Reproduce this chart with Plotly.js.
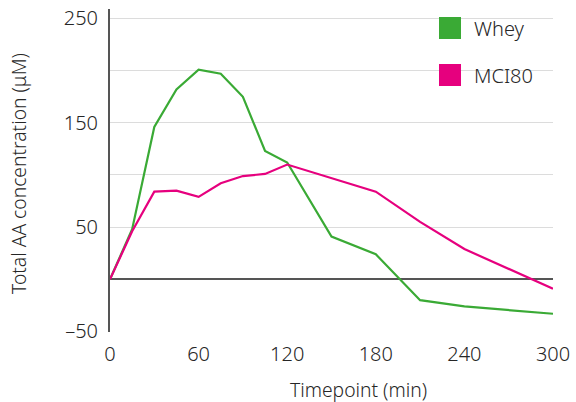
<!DOCTYPE html>
<html><head><meta charset="utf-8">
<script src="https://cdn.plot.ly/plotly-3.0.1.min.js"></script>
<style>html,body{margin:0;padding:0;background:#fff}</style>
</head><body>
<div id="chart" style="width:576px;height:402px"></div>
<script>
const timepoints = [0, 15, 30, 45, 60, 75, 90, 105, 120, 150, 180, 210, 240, 300];
const wheyValues = [0, 48, 146, 182, 201, 197, 175, 123, 112, 41, 24, -20, -26, -33];
const mci80Values = [0, 46, 84, 85, 79, 92, 99, 101, 110, 97, 84, 55, 29, -9];
const seriesNames = ['Whey', 'MCI80'];
const seriesColors = ['#3aaa35', '#e6007e'];
const yTickVals = [-50, 50, 150, 250];
const yTickText = ['–50', '50', '150', '250'];
const yGridVals = [50, 100, 150, 200, 250];
const xTickVals = [0, 60, 120, 180, 240, 300];
const xTitle = 'Timepoint (min)';
const yTitle = 'Total AA concentration (μM)';

const font = 'Noto Sans, Open Sans, sans-serif';
const txt = '#262626';
const traces = [wheyValues, mci80Values].map((v, i) => ({
  x: timepoints, y: v, type: 'scatter', mode: 'lines', name: seriesNames[i],
  line: {color: seriesColors[i], width: 2.2}, showlegend: false
}));

const L = 110, T = 9, W = 443, H = 323;
const px = x => (x - L) / W, py = y => 1 - (y - T) / H;
const shapes = [], annotations = [];
seriesNames.forEach((n, i) => {
  const top = 17 + i * 47;
  shapes.push({type: 'rect', xref: 'paper', yref: 'paper',
    x0: px(439), x1: px(461), y0: py(top), y1: py(top + 22),
    fillcolor: seriesColors[i], line: {width: 0}});
  annotations.push({xref: 'paper', yref: 'paper', x: px(472), y: py(top + 11),
    xanchor: 'left', yanchor: 'middle', text: n, showarrow: false,
    font: {family: font, size: 20, weight: 300, color: txt}});
});
annotations.push({xref: 'paper', yref: 'paper', x: px(358.5), y: py(389),
  xanchor: 'center', yanchor: 'middle', text: xTitle, showarrow: false,
  font: {family: font, size: 19.3, weight: 300, color: txt}});
annotations.push({xref: 'paper', yref: 'paper', x: px(18), y: py(174),
  xanchor: 'center', yanchor: 'middle', text: yTitle, textangle: -90, showarrow: false,
  font: {family: font, size: 19.3, weight: 300, color: txt}});

const layout = {
  width: 576, height: 402,
  margin: {l: L, r: 576 - L - W, t: T, b: 402 - T - H},
  paper_bgcolor: '#fff', plot_bgcolor: '#fff',
  font: {family: font, color: txt},
  xaxis: {
    range: [0, 300], tickvals: xTickVals, showgrid: false, zeroline: false,
    showline: false, ticks: '', ticklabelstandoff: 8,
    tickfont: {size: 20, weight: 300, color: txt}
  },
  yaxis: {
    range: [-50.5, 259.1], tickvals: yTickVals, ticktext: yTickText, showgrid: false,
    minor: {tickvals: yGridVals, showgrid: true, gridcolor: '#dcdcdc', gridwidth: 1, ticks: ''},
    zeroline: true, zerolinecolor: '#555', zerolinewidth: 2,
    showline: true, linecolor: '#555', linewidth: 2,
    ticks: '', ticklabelstandoff: 6, tickfont: {size: 20, weight: 300, color: txt}
  },
  shapes: shapes, annotations: annotations, showlegend: false
};
Plotly.newPlot('chart', traces, layout, {displayModeBar: false, staticPlot: true});
</script>
</body></html>
